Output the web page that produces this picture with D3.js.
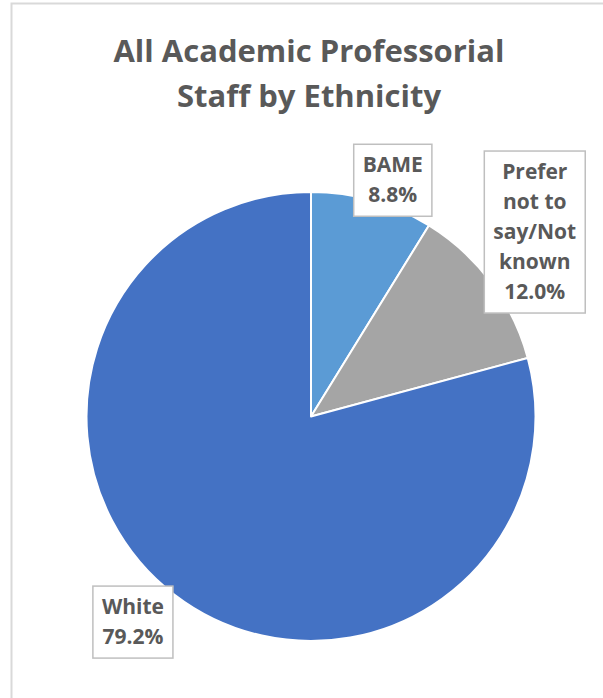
<!DOCTYPE html>
<html>
<head>
<meta charset="utf-8">
<script src="https://cdn.jsdelivr.net/npm/d3@7"></script>
<style>
  html, body { margin: 0; padding: 0; background: #fff; }
  svg { display: block; }
</style>
</head>
<body>
<svg id="chart" width="603" height="698"></svg>
<script>
// ---- data ----
const titleLines = ["All Academic Professorial", "Staff by Ethnicity"];
const categories = ["BAME", "Prefer not to say/Not known", "White"];
const values = [8.8, 12.0, 79.2];
const labelLines = [["BAME", "8.8%"], ["Prefer", "not to", "say/Not", "known", "12.0%"], ["White", "79.2%"]];
const colors = ["#5B9BD5", "#A5A5A5", "#4472C4"];

// ---- layout ----
const W = 603, H = 698;
const cx = 311, cy = 416.5, R = 224.5;
// label placement: angle (deg from 12 o'clock) and distance of label box centre from pie centre
const labelPlace = [
  { ang: 19.1, dist: 250 },
  { ang: 50.5, dist: 290 },
  { ang: 220.9, dist: 272 }
];
const textColor = "#595959";
const font = "'Open Sans', 'Noto Sans', sans-serif";

const svg = d3.select("#chart");

// frame
svg.append("path")
  .attr("d", `M11.5,${H} L11.5,3.5 L${W},3.5`)
  .attr("fill", "none")
  .attr("stroke", "#d9d9d9")
  .attr("stroke-width", 2);

// title
const title = svg.append("text")
  .attr("x", 309)
  .attr("text-anchor", "middle")
  .attr("font-family", font)
  .attr("font-size", 31)
  .attr("font-weight", 700)
  .attr("fill", textColor);
titleLines.forEach((t, i) => {
  title.append("tspan").attr("x", 309).attr("y", 62 + i * 45).text(t);
});

// pie
const pie = d3.pie().sort(null).value(d => d)(values);
const arc = d3.arc().innerRadius(0).outerRadius(R);

const g = svg.append("g").attr("transform", `translate(${cx},${cy})`);
g.selectAll("path.slice")
  .data(pie)
  .join("path")
  .attr("class", "slice")
  .attr("d", arc)
  .attr("fill", (d, i) => colors[i])
  .attr("stroke", "#fff")
  .attr("stroke-width", 2)
  .attr("stroke-linejoin", "round");

// labels
const lineH = 30;
pie.forEach((d, i) => {
  const a = labelPlace[i].ang * Math.PI / 180;
  const lx = cx + labelPlace[i].dist * Math.sin(a);
  const ly = cy - labelPlace[i].dist * Math.cos(a);
  const lines = labelLines[i];
  const lg = svg.append("g");
  const box = lg.append("rect");
  const txt = lg.append("text")
    .attr("text-anchor", "middle")
    .attr("font-family", font)
    .attr("font-size", 21)
    .attr("font-weight", 700)
    .attr("fill", textColor);
  const n = lines.length;
  const firstBase = ly - (n - 1) * lineH / 2 + 7;
  lines.forEach((t, k) => {
    txt.append("tspan").attr("x", lx).attr("y", firstBase + k * lineH).text(t);
  });
  const bb = txt.node().getBBox();
  const padX = 9, padTop = 13, padBot = 14;
  const top = firstBase - 15 - padTop;
  const bottom = firstBase + (n - 1) * lineH + padBot;
  box.attr("x", lx - bb.width / 2 - padX)
    .attr("y", top)
    .attr("width", bb.width + 2 * padX)
    .attr("height", bottom - top)
    .attr("fill", "#fff")
    .attr("stroke", "#bfbfbf")
    .attr("stroke-width", 1.5);
});
</script>
</body>
</html>
